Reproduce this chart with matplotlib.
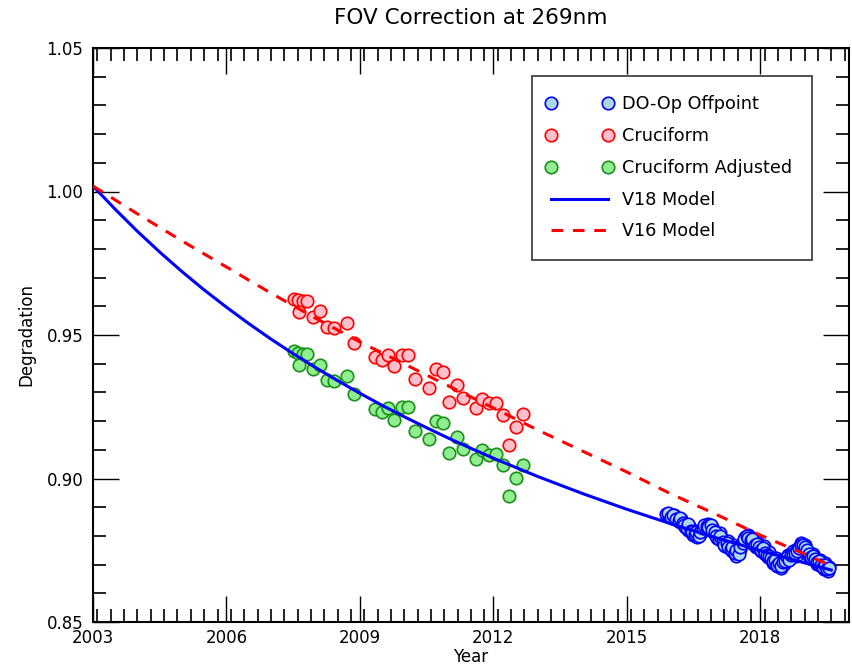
import matplotlib
matplotlib.use("Agg")
import matplotlib.pyplot as plt
from matplotlib.ticker import MultipleLocator
from matplotlib.lines import Line2D
from matplotlib.legend_handler import HandlerLine2D

plt.rcParams['font.family'] = ['DejaVu Sans']

# DO-Op Offpoint measurements (two interleaved reads of the dense cluster)
doop_year = [2015.89, 2015.96, 2016.03, 2016.07, 2016.14, 2016.19, 2016.23, 2016.28, 2016.32, 2016.37,
             2016.41, 2016.46, 2016.50, 2016.55, 2016.59, 2016.64, 2016.68, 2016.73, 2016.77, 2016.82,
             2016.86, 2016.91, 2016.95, 2017.00, 2017.04, 2017.09, 2017.13, 2017.18, 2017.22, 2017.27,
             2017.31, 2017.36, 2017.40, 2017.45, 2017.49, 2017.54, 2017.58, 2017.63, 2017.67, 2017.72,
             2017.76, 2017.81, 2017.85, 2017.90, 2017.94, 2017.99, 2018.03, 2018.08, 2018.12, 2018.17,
             2018.21, 2018.26, 2018.30, 2018.35, 2018.39, 2018.44, 2018.48, 2018.53, 2018.57, 2018.62,
             2018.66, 2018.71, 2018.75, 2018.80, 2018.84, 2018.89, 2018.93, 2018.98, 2019.02, 2019.07,
             2019.11, 2019.16, 2019.20, 2019.25, 2019.29, 2019.34, 2019.38, 2019.43, 2019.47, 2019.52,
             2019.56]
doop_val = [0.8876, 0.8869, 0.8862, 0.8873, 0.8855, 0.8848, 0.8859, 0.8841, 0.8831, 0.8820,
            0.8834, 0.8810, 0.8803, 0.8817, 0.8796, 0.8807, 0.8820, 0.8828, 0.8834, 0.8841,
            0.8824, 0.8831, 0.8814, 0.8803, 0.8793, 0.8810, 0.8786, 0.8775, 0.8765, 0.8782,
            0.8758, 0.8747, 0.8768, 0.8730, 0.8744, 0.8754, 0.8768, 0.8786, 0.8796, 0.8803,
            0.8782, 0.8793, 0.8772, 0.8761, 0.8779, 0.8754, 0.8747, 0.8765, 0.8737, 0.8726,
            0.8744, 0.8716, 0.8705, 0.8723, 0.8695, 0.8712, 0.8688, 0.8702, 0.8719, 0.8733,
            0.8723, 0.8740, 0.8747, 0.8730, 0.8754, 0.8765, 0.8775, 0.8758, 0.8768, 0.8744,
            0.8730, 0.8719, 0.8737, 0.8712, 0.8702, 0.8716, 0.8695, 0.8684, 0.8705, 0.8677,
            0.8691]
doop_year_b = [2015.92, 2016.00, 2016.05, 2016.10, 2016.17, 2016.21, 2016.26, 2016.30, 2016.35, 2016.39,
               2016.44, 2016.48, 2016.53, 2016.57, 2016.62, 2016.66, 2016.71, 2016.75, 2016.80, 2016.84,
               2016.89, 2016.93, 2016.98, 2017.02, 2017.07, 2017.11, 2017.16, 2017.20, 2017.25, 2017.29,
               2017.34, 2017.38, 2017.43, 2017.47, 2017.52, 2017.56, 2017.61, 2017.65, 2017.70, 2017.74,
               2017.79, 2017.83, 2017.88, 2017.92, 2017.97, 2018.01, 2018.06, 2018.10, 2018.15, 2018.19,
               2018.24, 2018.28, 2018.33, 2018.37, 2018.42, 2018.46, 2018.51, 2018.55, 2018.60, 2018.64,
               2018.69, 2018.73, 2018.78, 2018.82, 2018.87, 2018.91, 2018.96, 2019.00, 2019.05, 2019.09,
               2019.14, 2019.18, 2019.23, 2019.27, 2019.32, 2019.36, 2019.41, 2019.45, 2019.50, 2019.54]
doop_val_b = [0.8880, 0.8866, 0.8874, 0.8860, 0.8851, 0.8862, 0.8845, 0.8838, 0.8826, 0.8840,
              0.8818, 0.8813, 0.8806, 0.8812, 0.8800, 0.8815, 0.8826, 0.8838, 0.8835, 0.8830,
              0.8838, 0.8822, 0.8815, 0.8800, 0.8790, 0.8798, 0.8780, 0.8770, 0.8775, 0.8762,
              0.8755, 0.8760, 0.8740, 0.8750, 0.8738, 0.8760, 0.8775, 0.8790, 0.8798, 0.8792,
              0.8785, 0.8788, 0.8770, 0.8772, 0.8760, 0.8752, 0.8758, 0.8742, 0.8735, 0.8730,
              0.8722, 0.8712, 0.8716, 0.8700, 0.8706, 0.8695, 0.8708, 0.8712, 0.8726, 0.8716,
              0.8732, 0.8738, 0.8740, 0.8748, 0.8758, 0.8770, 0.8768, 0.8762, 0.8752, 0.8738,
              0.8726, 0.8730, 0.8718, 0.8708, 0.8712, 0.8700, 0.8690, 0.8698, 0.8684, 0.8688]

# Cruciform measurements (raw) and adjusted
cruc_year = [2007.52, 2007.61, 2007.73, 2007.82, 2007.64, 2007.95, 2008.11, 2008.27, 2008.42, 2008.72,
             2008.87, 2009.35, 2009.50, 2009.64, 2009.77, 2009.95, 2010.09, 2010.25, 2010.56, 2010.72,
             2010.88, 2011.01, 2011.19, 2011.33, 2011.62, 2011.75, 2011.91, 2012.07, 2012.23, 2012.36,
             2012.52, 2012.68]
cruc_val = [0.9625, 0.9622, 0.9618, 0.9618, 0.9580, 0.9563, 0.9584, 0.9528, 0.9524, 0.9542,
            0.9472, 0.9423, 0.9413, 0.9430, 0.9392, 0.9430, 0.9430, 0.9347, 0.9315, 0.9382,
            0.9371, 0.9267, 0.9326, 0.9280, 0.9246, 0.9277, 0.9263, 0.9263, 0.9221, 0.9117,
            0.9179, 0.9225]
cruc_adj_val = [0.9444, 0.9437, 0.9434, 0.9434, 0.9395, 0.9382, 0.9395, 0.9343, 0.9340, 0.9357,
                0.9294, 0.9242, 0.9232, 0.9246, 0.9204, 0.9249, 0.9249, 0.9166, 0.9138, 0.9200,
                0.9193, 0.9089, 0.9145, 0.9103, 0.9068, 0.9099, 0.9082, 0.9085, 0.9047, 0.8940,
                0.9002, 0.9047]

# V18 model (smooth curve, read at half-year steps early on)
v18_year = [2003.0, 2003.5, 2004.0, 2004.5, 2005.0, 2005.5, 2006.0, 2006.5, 2007.0, 2007.5,
            2008.0, 2008.5, 2009.0, 2009.5, 2010.0, 2010.5, 2011.0, 2011.5, 2012.0, 2013.0,
            2014.0, 2015.0, 2016.0, 2017.0, 2018.0, 2019.0, 2019.6]
v18_val = [1.0019, 0.9938, 0.9861, 0.9789, 0.9721, 0.9657, 0.9597, 0.9540, 0.9486, 0.9435,
           0.9387, 0.9341, 0.9297, 0.9255, 0.9215, 0.9177, 0.9140, 0.9105, 0.9071, 0.9007,
           0.8948, 0.8893, 0.8842, 0.8794, 0.8749, 0.8706, 0.8681]
# V16 model
v16_year = [2003.0, 2004.0, 2005.0, 2006.0, 2007.0, 2008.0, 2009.0, 2010.0, 2011.0, 2012.0,
            2013.0, 2014.0, 2015.0, 2016.0, 2017.0, 2018.0, 2019.0, 2019.6]
v16_val = [1.0019, 0.9922, 0.9828, 0.9737, 0.9646, 0.9559, 0.9476, 0.9399, 0.9322, 0.9246,
           0.9169, 0.9096, 0.9023, 0.8946, 0.8876, 0.8803, 0.8737, 0.8696]

xticks = [2003, 2006, 2009, 2012, 2015, 2018]
yticks = [0.85, 0.90, 0.95, 1.00, 1.05]

fig = plt.figure(figsize=(8.53, 6.65), dpi=100)
ax = fig.add_axes([93/853, 1-622/665, (849-93)/853, (622-48)/665])

ms = 9
mew = 1.2
doop_style = dict(ms=ms, mfc='#add8e6', mec='#0000ff', mew=mew, zorder=3)
ax.plot(doop_year, doop_val, 'o', label='DO-Op Offpoint', **doop_style)
ax.plot(doop_year_b, doop_val_b, 'o', **doop_style)
ax.plot(cruc_year, cruc_val, 'o', ms=ms, mfc='#ffc0cb', mec='#ff0000', mew=mew,
        label='Cruciform', zorder=3)
ax.plot(cruc_year, cruc_adj_val, 'o', ms=ms, mfc='#90ee90', mec='#1a8f1a', mew=mew,
        label='Cruciform Adjusted', zorder=3)
ax.plot(v18_year, v18_val, '-', color='#0000ff', lw=2.2, label='V18 Model', zorder=4)
ax.plot(v16_year, v16_val, '--', color='#ff0000', lw=2.2, dashes=(3.8, 3.2),
        label='V16 Model', zorder=5)

ax.set_xlim(2003, 2020)
ax.set_ylim(0.85, 1.05)
ax.set_xticks(xticks)
ax.set_xticklabels([str(t) for t in xticks])
ax.set_yticks(yticks)
ax.set_yticklabels([f"{t:.2f}" for t in yticks])
ax.xaxis.set_minor_locator(MultipleLocator(0.3))
ax.yaxis.set_minor_locator(MultipleLocator(0.01))
ax.tick_params(which='both', direction='in', top=True, right=True, labelsize=12)
ax.tick_params(which='major', length=19, width=1.0, color='black')
ax.tick_params(which='minor', length=9.5, width=1.4, color='#222222')
ax.tick_params(axis='x', which='major', pad=5)
ax.tick_params(axis='y', which='major', pad=7)
for s in ax.spines.values():
    s.set_linewidth(1.5)
    s.set_color('black')

ax.set_title('FOV Correction at 269nm', fontsize=15.5, pad=17)
ax.set_xlabel('Year', fontsize=12, labelpad=1)
ax.set_ylabel('Degradation', fontsize=12, labelpad=8)

leg = ax.legend(loc='upper right', bbox_to_anchor=(812/853, 1-76/665), bbox_transform=fig.transFigure,
                numpoints=2, fontsize=12.7, frameon=True, fancybox=False, shadow=False,
                handlelength=3.25, handletextpad=0.8, labelspacing=0.78, borderpad=1.1,
                borderaxespad=0, handler_map={Line2D: HandlerLine2D(marker_pad=0.0)})
leg.get_frame().set_edgecolor('black')
leg.get_frame().set_linewidth(1.2)

fig.savefig('out.png', dpi=100)
